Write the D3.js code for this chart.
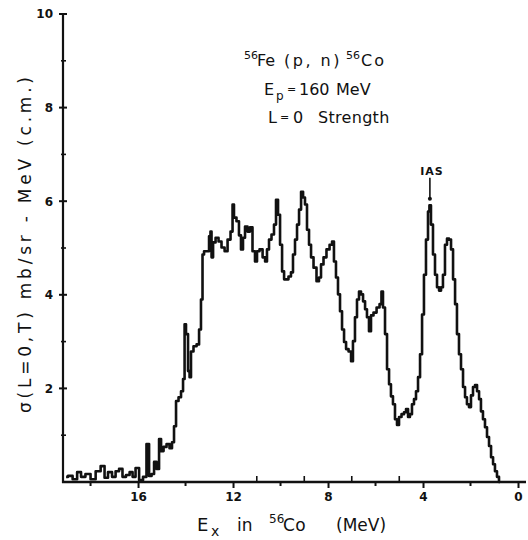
<!DOCTYPE html>
<html>
<head>
<meta charset="utf-8">
<script src="https://cdn.jsdelivr.net/npm/d3@7"></script>
<style>
  html, body { margin: 0; padding: 0; background: #fff; }
  svg { display: block; }
  text { fill: #111; }
</style>
</head>
<body>
<svg id="chart" width="528" height="540"></svg>
<script>
// Excitation energy in 56Co (MeV), one entry per histogram channel
const ex = [19.03,18.86,18.65,18.48,18.32,18.11,17.89,17.68,17.47,17.35,
  17.18,17.01,16.88,16.72,16.59,16.42,16.29,16.17,16.04,15.87,
  15.71,15.58,15.49,15.37,15.28,15.16,15.07,14.99,14.86,14.74,
  14.61,14.53,14.44,14.36,14.23,14.15,14.06,14.02,13.94,13.85,
  13.81,13.73,13.60,13.47,13.39,13.31,13.26,13.18,13.05,12.97,
  12.93,12.88,12.80,12.67,12.55,12.42,12.29,12.17,12.04,12.00,
  11.92,11.79,11.71,11.62,11.54,11.45,11.33,11.24,11.12,11.03,
  10.95,10.82,10.69,10.61,10.53,10.44,10.32,10.23,10.15,10.06,
  9.98,9.89,9.81,9.73,9.60,9.52,9.43,9.35,9.26,9.18,
  9.09,9.01,8.93,8.84,8.76,8.67,8.55,8.42,8.34,8.25,
  8.13,8.00,7.87,7.79,7.71,7.62,7.54,7.45,7.37,7.28,
  7.20,7.07,6.99,6.91,6.82,6.74,6.65,6.57,6.48,6.40,
  6.32,6.23,6.15,6.02,5.89,5.77,5.73,5.64,5.56,5.47,
  5.39,5.31,5.22,5.14,5.05,4.97,4.84,4.76,4.67,4.59,
  4.51,4.42,4.34,4.25,4.17,4.08,4.00,3.92,3.83,3.75,
  3.71,3.62,3.54,3.45,3.37,3.28,3.20,3.12,3.03,2.95,
  2.86,2.78,2.69,2.61,2.53,2.44,2.36,2.27,2.19,2.11,
  2.02,1.94,1.85,1.77,1.68,1.60,1.52,1.43,1.35,1.26,
  1.18,1.09,1.01,0.93,0.84,0.76];

// L=0 cross section sigma(L=0,T) in mb/sr-MeV (c.m.)
const sigma = [0.11,0.13,0.06,0.21,0.11,0.17,0.06,0.23,0.34,0.09,
  0.21,0.11,0.23,0.28,0.11,0.15,0.21,0.11,0.30,0.04,
  0.11,0.81,0.13,0.17,0.43,0.28,0.92,0.66,0.75,0.81,
  0.72,0.85,1.19,1.73,1.81,1.94,2.20,3.37,3.16,2.37,
  2.24,2.79,2.90,2.94,3.26,3.90,4.86,4.93,4.93,5.25,
  5.35,4.80,5.12,5.22,5.14,5.01,4.93,5.18,5.35,5.93,
  5.65,5.57,5.27,4.97,5.22,5.46,5.35,5.44,4.93,4.71,
  4.93,4.97,4.80,4.71,4.97,5.18,5.29,5.50,6.03,5.71,
  5.07,4.50,4.33,4.33,4.39,4.48,4.86,5.18,5.50,5.82,
  6.20,6.08,5.93,5.39,5.07,4.80,4.58,4.29,4.37,4.65,
  4.80,4.97,5.07,5.14,4.71,4.37,4.01,3.65,3.26,2.99,
  2.84,2.79,2.58,3.01,3.52,3.90,4.07,4.01,3.86,3.69,
  3.52,3.22,3.56,3.62,3.73,3.80,4.07,3.73,3.16,2.41,
  2.09,1.83,1.66,1.34,1.22,1.39,1.45,1.49,1.56,1.39,
  1.45,1.66,1.77,1.94,2.24,2.73,3.58,4.43,5.18,5.78,
  5.91,5.50,4.86,4.43,4.16,4.09,4.16,4.43,5.07,5.20,
  5.18,4.97,4.33,3.80,3.16,2.73,2.41,2.03,1.81,1.66,
  1.60,1.85,2.03,2.07,1.94,1.77,1.51,1.34,1.17,0.96,
  0.77,0.53,0.38,0.23,0.11,0.00];

const xMajorTicks = [16, 12, 8, 4, 0];
const xMinorTicks = [18, 14, 10, 6, 2];
const xInnerTicks = [11, 9, 7, 5];
const yMajorTicks = [2, 4, 6, 8, 10];
const yMinorTicks = [1, 3, 5, 7, 9];
const iasEx = 3.71;

const svg = d3.select("#chart");
const ink = "#111";
const font = "'DejaVu Sans', sans-serif";

const x = d3.scaleLinear().domain([19.16, 0]).range([63, 518]);
const y = d3.scaleLinear().domain([0, 10]).range([482, 14]);

// axes frame
svg.append("line").attr("x1", x(19.16) - 1).attr("x2", 526)
  .attr("y1", y(0)).attr("y2", y(0))
  .attr("stroke", ink).attr("stroke-width", 2.4);
svg.append("line").attr("x1", x(19.16)).attr("x2", x(19.16))
  .attr("y1", y(0) + 1).attr("y2", y(10))
  .attr("stroke", ink).attr("stroke-width", 2.2);

// x axis ticks and labels
const xAxis = d3.axisBottom(x).tickValues(xMajorTicks).tickSize(6)
  .tickPadding(4).tickFormat(d3.format("d"));
const gx = svg.append("g").attr("transform", `translate(0,${y(0)})`).call(xAxis);
gx.select(".domain").remove();
gx.selectAll(".tick line").attr("stroke", ink).attr("stroke-width", 2);
gx.selectAll(".tick text")
  .attr("font-family", font)
  .attr("font-size", 12).attr("font-weight", "bold").attr("fill", ink);

svg.append("g").selectAll("line").data(xMinorTicks).join("line")
  .attr("x1", d => x(d)).attr("x2", d => x(d))
  .attr("y1", y(0)).attr("y2", y(0) + 4)
  .attr("stroke", ink).attr("stroke-width", 2);
svg.append("g").selectAll("line").data(xInnerTicks).join("line")
  .attr("x1", d => x(d)).attr("x2", d => x(d))
  .attr("y1", y(0)).attr("y2", y(0) - 6)
  .attr("stroke", ink).attr("stroke-width", 1.6);

// y axis ticks and labels
const yAxis = d3.axisLeft(y).tickValues(yMajorTicks).tickSize(0)
  .tickPadding(10).tickFormat(d3.format("d"));
const gy = svg.append("g").attr("transform", `translate(${x(19.16)},0)`).call(yAxis);
gy.select(".domain").remove();
gy.selectAll(".tick text")
  .attr("font-family", font)
  .attr("font-size", 12).attr("font-weight", "bold").attr("fill", ink);

svg.append("g").selectAll("line").data(yMajorTicks).join("line")
  .attr("x1", x(19.16) - 4).attr("x2", x(19.16) + 4)
  .attr("y1", d => y(d)).attr("y2", d => y(d))
  .attr("stroke", ink).attr("stroke-width", 2);
svg.append("g").selectAll("line").data(yMinorTicks).join("line")
  .attr("x1", x(19.16) - 2).attr("x2", x(19.16) + 3)
  .attr("y1", d => y(d)).attr("y2", d => y(d))
  .attr("stroke", ink).attr("stroke-width", 1.6);

// spectrum, drawn as a stepped histogram
const pts = d3.zip(ex, sigma);
const line = d3.line()
  .x(d => x(d[0])).y(d => y(d[1]))
  .curve(d3.curveStep);
svg.append("path").datum(pts)
  .attr("d", line)
  .attr("fill", "none").attr("stroke", ink)
  .attr("stroke-width", 2.6).attr("stroke-linejoin", "round");

// IAS marker
const iasX = x(iasEx);
svg.append("text").attr("x", iasX + 2).attr("y", y(6.55))
  .attr("text-anchor", "middle").attr("letter-spacing", 1)
  .attr("font-family", font)
  .attr("font-size", 11).attr("font-weight", "bold").text("IAS");
svg.append("line").attr("x1", iasX).attr("x2", iasX)
  .attr("y1", y(6.5)).attr("y2", y(6.05))
  .attr("stroke", ink).attr("stroke-width", 1.6);
svg.append("circle").attr("cx", iasX).attr("cy", y(6.05)).attr("r", 2).attr("fill", ink);

// reaction description
const note = svg.append("g")
  .attr("font-family", font).attr("font-size", 16).attr("fill", ink);
const put = (g, px, py, str, size) => g.append("text")
  .attr("x", px).attr("y", py).attr("font-size", size || 16).text(str);
put(note, 244, 59, "56", 11);
put(note, 257, 66, "Fe");
put(note, 284, 66, "(p, n)").attr("letter-spacing", 2.5);
put(note, 346, 59, "56", 11);
put(note, 361, 66, "Co").attr("letter-spacing", 2);
put(note, 264, 95, "E");
put(note, 276, 100, "p", 12);
put(note, 287, 93, "=", 11);
put(note, 299, 95, "160");
put(note, 336, 95, "MeV");
put(note, 268, 123, "L");
put(note, 280, 121, "=", 11);
put(note, 293, 123, "0");
put(note, 318, 123, "Strength").attr("letter-spacing", 0.3);

// axis titles
const xTitle = svg.append("g").attr("font-family", font).attr("fill", ink);
put(xTitle, 197, 531, "E", 18);
put(xTitle, 211, 536, "x", 14);
put(xTitle, 237, 531, "in", 17);
put(xTitle, 269, 523, "56", 12);
put(xTitle, 283, 531, "Co", 17).attr("letter-spacing", 0.5);
put(xTitle, 336, 531, "(MeV)", 17);

svg.append("text")
  .attr("transform", "translate(31,245) rotate(-90)")
  .attr("text-anchor", "middle")
  .attr("font-family", font).attr("font-size", 17).attr("fill", ink)
  .attr("textLength", 336).attr("lengthAdjust", "spacing")
  .text("σ(L=0,T)  mb/sr - MeV  (c.m.)");
</script>
</body>
</html>
